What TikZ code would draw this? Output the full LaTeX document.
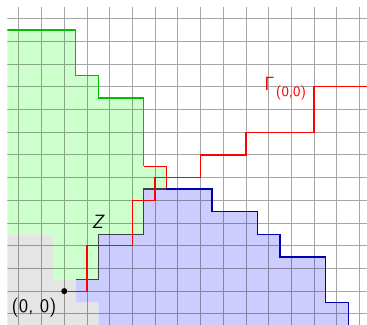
\documentclass[tikz,border=0pt]{standalone}
\usepackage{xcolor}
\usepackage{tikz}
\usetikzlibrary{positioning}

\begin{document}
\begin{tikzpicture}[
      x=0.5cm, y=0.5cm,
      font=\sffamily\large,
      % Reusable styles
      gridline/.style={draw=black, draw opacity=0.35, line width=0.5pt},
      greenwall/.style={draw=green!75!black, line width=0.8pt},
      bluewall/.style={draw=blue!70!black, line width=0.8pt},
      darkwall/.style={draw=black!75, line width=0.8pt},
      gamma/.style={draw=red, line width=0.8pt},
      dot/.style={circle, fill=black, inner sep=0pt, minimum size=3.8pt}
    ]
    \useasboundingbox (-2.83,-1.45) rectangle (13.33,12.82);
    \clip (-2.5,-1.45) rectangle (13.33,12.5);

    % Regions
    \fill[black!10] (-2.5,-1.5) -- (-2.5,2.5) -- (-0.5,2.5) -- (-0.5,0.5) -- (0.5,0.5)
      -- (0.5,-0.5) -- (1.5,-0.5) -- (1.5,-1.5) -- cycle;
    \fill[green!20] (-2.5,2.5) -- (-2.5,11.5) -- (0.5,11.5) -- (0.5,9.5) -- (1.5,9.5)
      -- (1.5,8.5) -- (3.5,8.5) -- (3.5,5.5) -- (4.5,5.5) -- (4.5,4.5) -- (3.5,4.5)
      -- (3.5,2.5) -- (1.5,2.5) -- (1.5,0.5) -- (-0.5,0.5) -- (-0.5,2.5) -- cycle;
    \fill[blue!20] (0.5,-0.5) -- (0.5,0.5) -- (1.5,0.5) -- (1.5,2.5) -- (3.5,2.5)
      -- (3.5,4.5) -- (6.5,4.5) -- (6.5,3.5) -- (8.5,3.5) -- (8.5,2.5) -- (9.5,2.5)
      -- (9.5,1.5) -- (11.5,1.5) -- (11.5,-0.5) -- (12.5,-0.5) -- (12.5,-1.5)
      -- (1.5,-1.5) -- (1.5,-0.5) -- cycle;

    % Grid
    \draw[gridline, step=0.5cm] (-2.5,-1.5) grid (13.5,12.5);

    % Walls
    \draw[greenwall] (-2.5,11.5) -| (0.5,9.5) -| (1.5,8.5) -| (3.5,5.5);
    \draw[gamma] (3.5,5.5) -| (4.5,4.5);
    \draw[darkwall] (4.5,4.5) -- (3.5,4.5) |- (1.5,2.5) |- (0.5,0.5);
    \draw[bluewall] (4.5,4.5) -| (6.5,3.5) -| (8.5,2.5) -| (9.5,1.5) -| (11.5,-0.5) -| (12.5,-1.5);

    % Nodes
    \node[dot] (origin) at (0,0) {};
    \node (origlabel) at (-1.33,-0.75) {(0, 0)};
    \node (zlabel) at (1.5,3.05) {\textit{Z}};
    \node[text=red, anchor=base west, inner sep=0pt] (gammalabel) at (8.8,8.85)
      {$\mathsf{\Gamma}$\kern0.8pt\raisebox{-3.7pt}{\small(0,0)}};

    % Path
    \draw[gamma] (origin) -- (1,0) |- (3,2) |- (4,4) |- (6,5) |- (8,6) |- (11,7) |- (13.5,9);
  \end{tikzpicture}
\end{document}
